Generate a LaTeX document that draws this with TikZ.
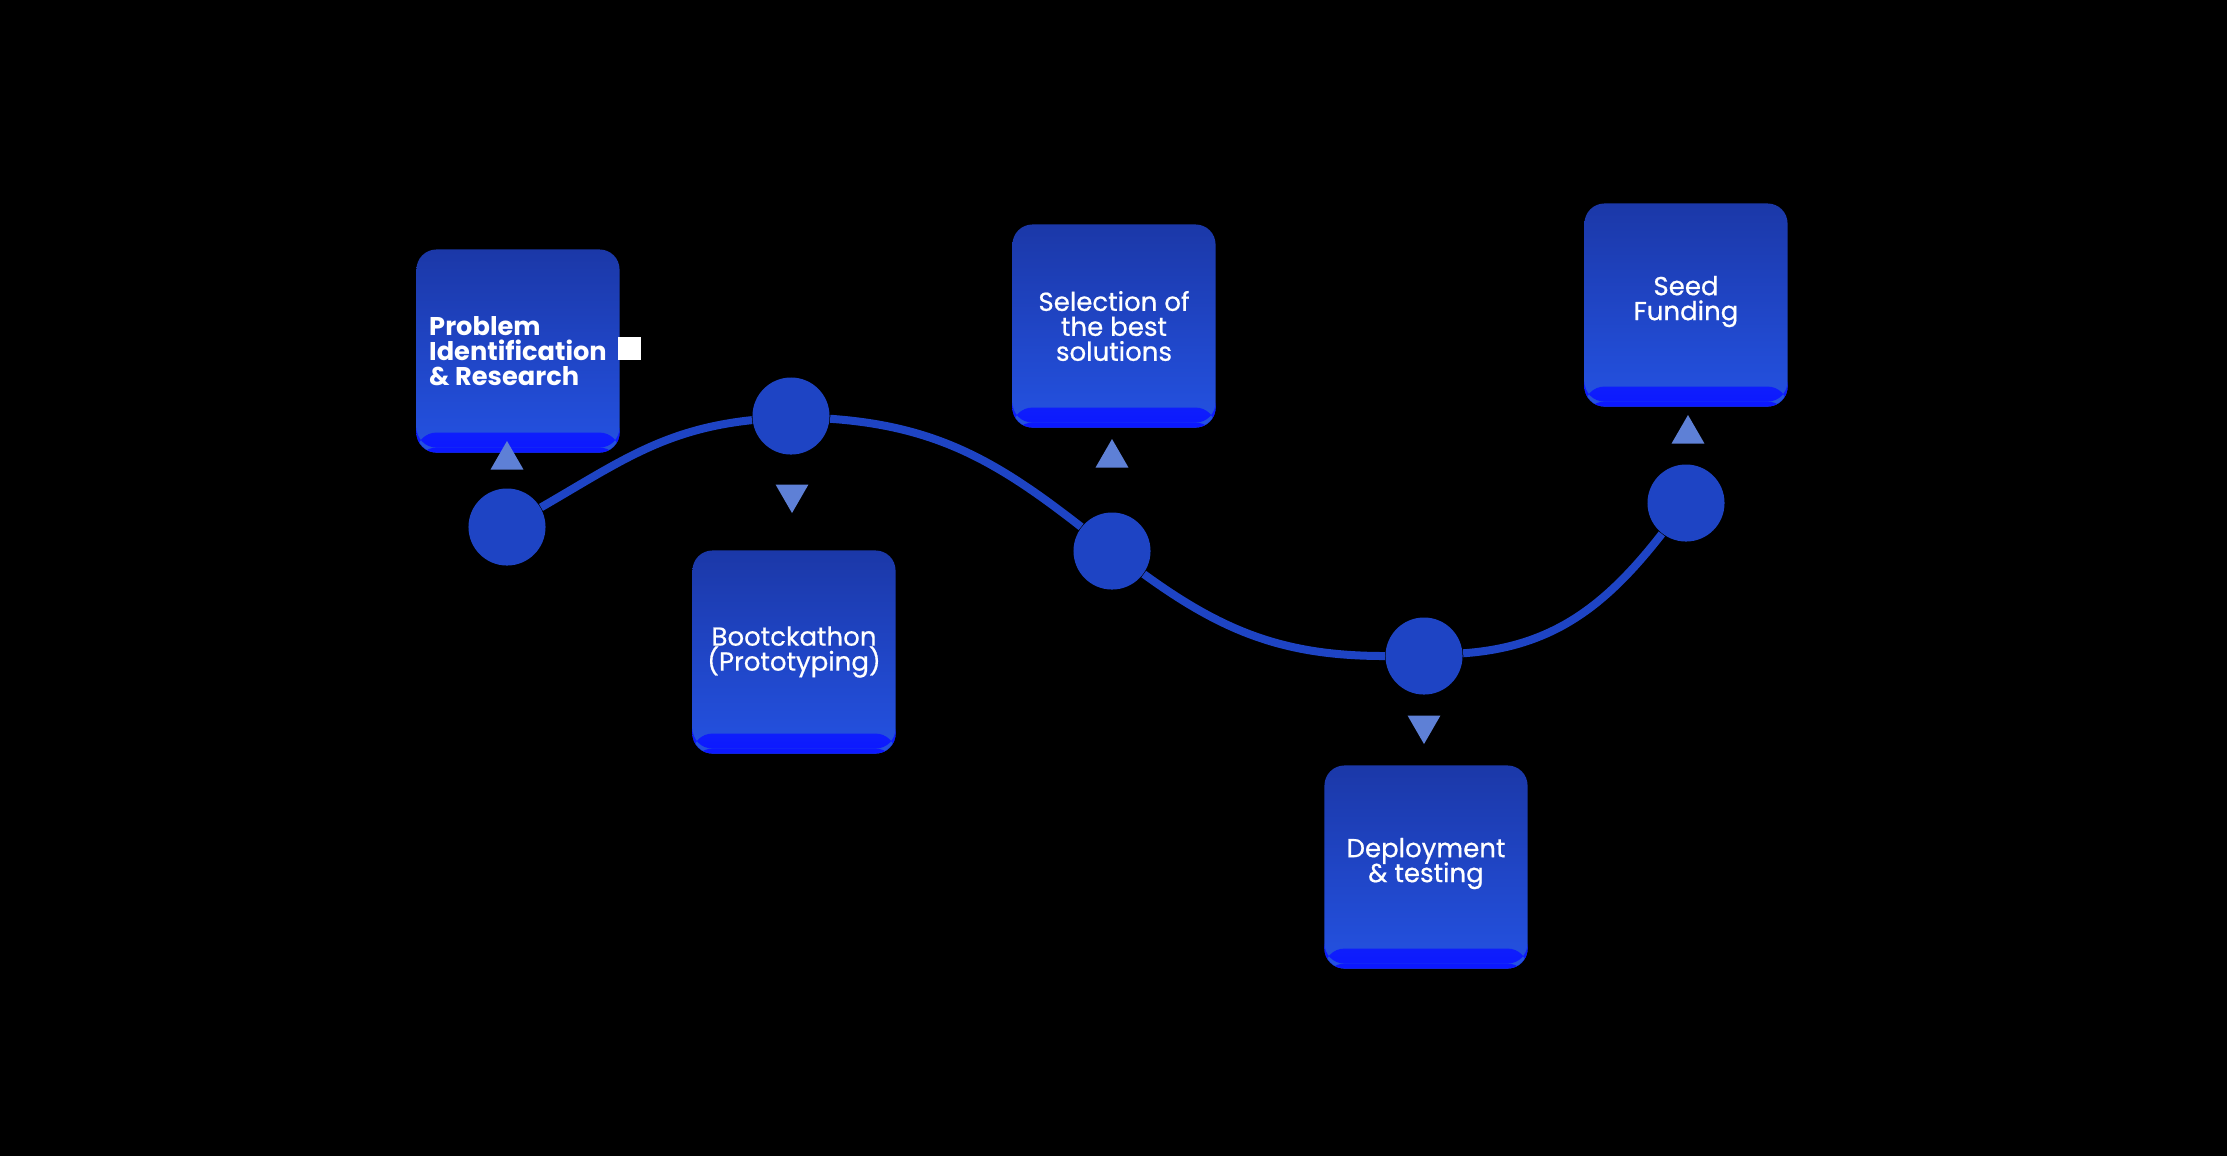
\documentclass[tikz,border=0pt]{standalone}
\usepackage{fontspec}
\setmainfont{Poppins}
\newfontfamily\mittel[FakeBold=0.6]{Poppins}
\usepackage{tikz}
\usetikzlibrary{shapes.geometric, positioning}
\definecolor{bgblack}{RGB}{0,0,0}
\definecolor{boxdark}{RGB}{27,56,168}
\definecolor{boxlight}{RGB}{36,82,226}
\definecolor{stripblue}{RGB}{12,24,255}
\definecolor{dotblue}{RGB}{30,68,196}
\definecolor{triblue}{RGB}{94,128,214}
\newcommand{\engzeilen}{\lineskiplimit=-5pt\relax}

\begin{document}
\begin{tikzpicture}[x=0.01cm, y=0.01cm,
				stage/.style={draw=none, rounded corners=0.2cm, minimum width=2.03cm, minimum height=2.03cm,
					top color=boxdark, bottom color=boxlight, text=white, align=center, inner sep=0pt,
					font=\fontsize{7.4pt}{7.1pt}\mittel\engzeilen,
					path picture={
						\shade[top color=boxlight, bottom color=stripblue] ([yshift=0.05cm]path picture bounding box.south west) rectangle ([yshift=0.2cm]path picture bounding box.south east);
						\fill[stripblue] (path picture bounding box.south west) rectangle ([yshift=0.05cm]path picture bounding box.south east);}},
				dot/.style={circle, fill=dotblue, minimum size=0.77cm, inner sep=0pt},
				tri/.style={regular polygon, regular polygon sides=3, fill=triblue, minimum size=0.38cm, inner sep=0pt},
				tridown/.style={tri, shape border rotate=180}]
				%Hintergrund
				\fill[bgblack] (0,0) rectangle (2227,-1156);
				\useasboundingbox (0,0) rectangle (2227,-1156);
				%Kreise
				\node[dot] (c1) at (507,-527) {};
				\node[dot] (c2) at (791,-416) {};
				\node[dot] (c3) at (1112,-551) {};
				\node[dot] (c4) at (1424,-656) {};
				\node[dot] (c5) at (1686,-503) {};
				%Linie
				\draw[dotblue, line width=0.08cm] (c1) to[out=30,in=186] (c2) to[out=-4,in=142] (c3)
					to[out=-36,in=180] (c4) to[out=4,in=-128] (c5);
				%Kaesten
				\node[stage, align=left, font=\fontsize{7.3pt}{7.1pt}\selectfont\bfseries\engzeilen] (s1) at (518,-351) {Problem\\Identification\\\& Research};
				\node[stage] (s2) at (794,-652) {Bootckathon\\(Prototyping)};
				\node[stage] (s3) at (1114,-326) {Selection of\\the best\\solutions};
				\node[stage] (s4) at (1426,-867) {Deployment\\\& testing\\[-0.11cm]};
				\node[stage] (s5) at (1686,-305) {Seed\\Funding\\[-0.11cm]};
				\node[fill=white, minimum size=0.23cm, inner sep=0pt] (mark) at (629,-348) {};
				%Dreiecke
				\node[tri] (t1) at (507,-460) {};
				\node[tridown] (t2) at (792,-494) {};
				\node[tri] (t3) at (1112,-458) {};
				\node[tridown] (t4) at (1424,-725) {};
				\node[tri] (t5) at (1688,-434) {};
			\end{tikzpicture}
\end{document}
